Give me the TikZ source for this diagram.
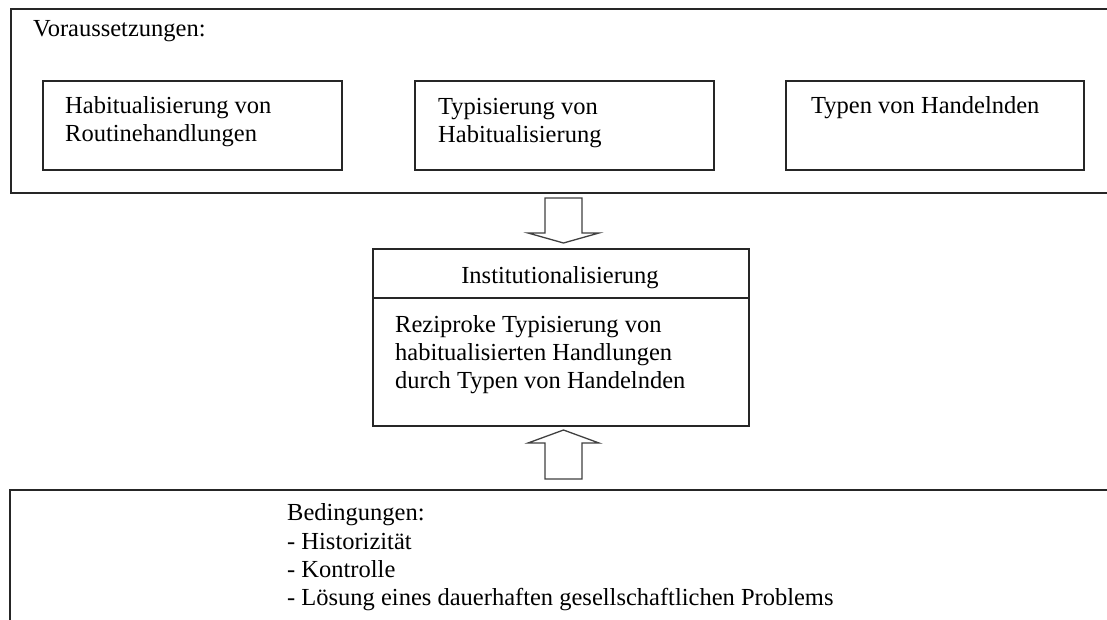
\documentclass[tikz,border=0pt]{standalone}
\usepackage{fontspec}
\setmainfont{Liberation Serif}
\begin{document}
\begin{tikzpicture}[x=1pt,y=-1pt,
  frame/.style={draw=black!85, line width=1.8pt},
  boxnode/.style={draw=black!85, line width=1.8pt, inner sep=0pt, anchor=north west},
  txt/.style={anchor=base west, inner sep=0pt, align=left, font=\fontsize{24.5}{28.2}\selectfont},
  fatarrow/.style={draw=black!75, line width=1.3pt, fill=white, line join=miter}]
\useasboundingbox (0,0) rectangle (1107,620);
\clip (0,0) rectangle (1107,620);
% outer boxes (cut by the picture edge)
\node[boxnode, minimum width=1130pt, minimum height=184pt] (vor) at (10,8) {};
\node[boxnode, minimum width=1130pt, minimum height=160pt] (bed) at (9,489) {};
% inner boxes
\node[boxnode, minimum width=299pt, minimum height=89pt] (b1) at (42,80) {};
\node[boxnode, minimum width=299pt, minimum height=89pt] (b2) at (414,80) {};
\node[boxnode, minimum width=298pt, minimum height=89pt] (b3) at (785,80) {};
% institution box
\node[boxnode, minimum width=376pt, minimum height=177pt] (inst) at (372,248) {};
\draw[frame] (inst.west |- 0,298) coordinate (sl) -- (inst.east |- 0,298) coordinate (sr);
% texts (base anchor = baseline of the last line)
\node[txt] (tvor) at (33,37) {Voraussetzungen:};
\node[txt] (t1) at (65,141.5) {Habitualisierung von\\Routinehandlungen};
\node[txt] (t2) at (438,142.5) {Typisierung von\\Habitualisierung};
\node[txt] (t3) at (811,114) {Typen von Handelnden};
\node[txt, anchor=base] (tinst) at (560,283) {Institutionalisierung};
\node[txt] (tdef) at (395,388.5) {Reziproke Typisierung von\\habitualisierten Handlungen\\durch Typen von Handelnden};
\node[txt] (tbed) at (287,605.5) {Bedingungen:\\- Historizität\\- Kontrolle\\- Lösung eines dauerhaften gesellschaftlichen Problems};
% block arrows
\draw[fatarrow] (545,198) -- (582,198) -- (582,233) -- (599,233) -- (563.5,243) -- (528,233) -- (545,233) -- cycle;
\draw[fatarrow] (545,479) -- (582,479) -- (582,443) -- (599,443) -- (563.5,430) -- (528,443) -- (545,443) -- cycle;
\end{tikzpicture}
\end{document}
